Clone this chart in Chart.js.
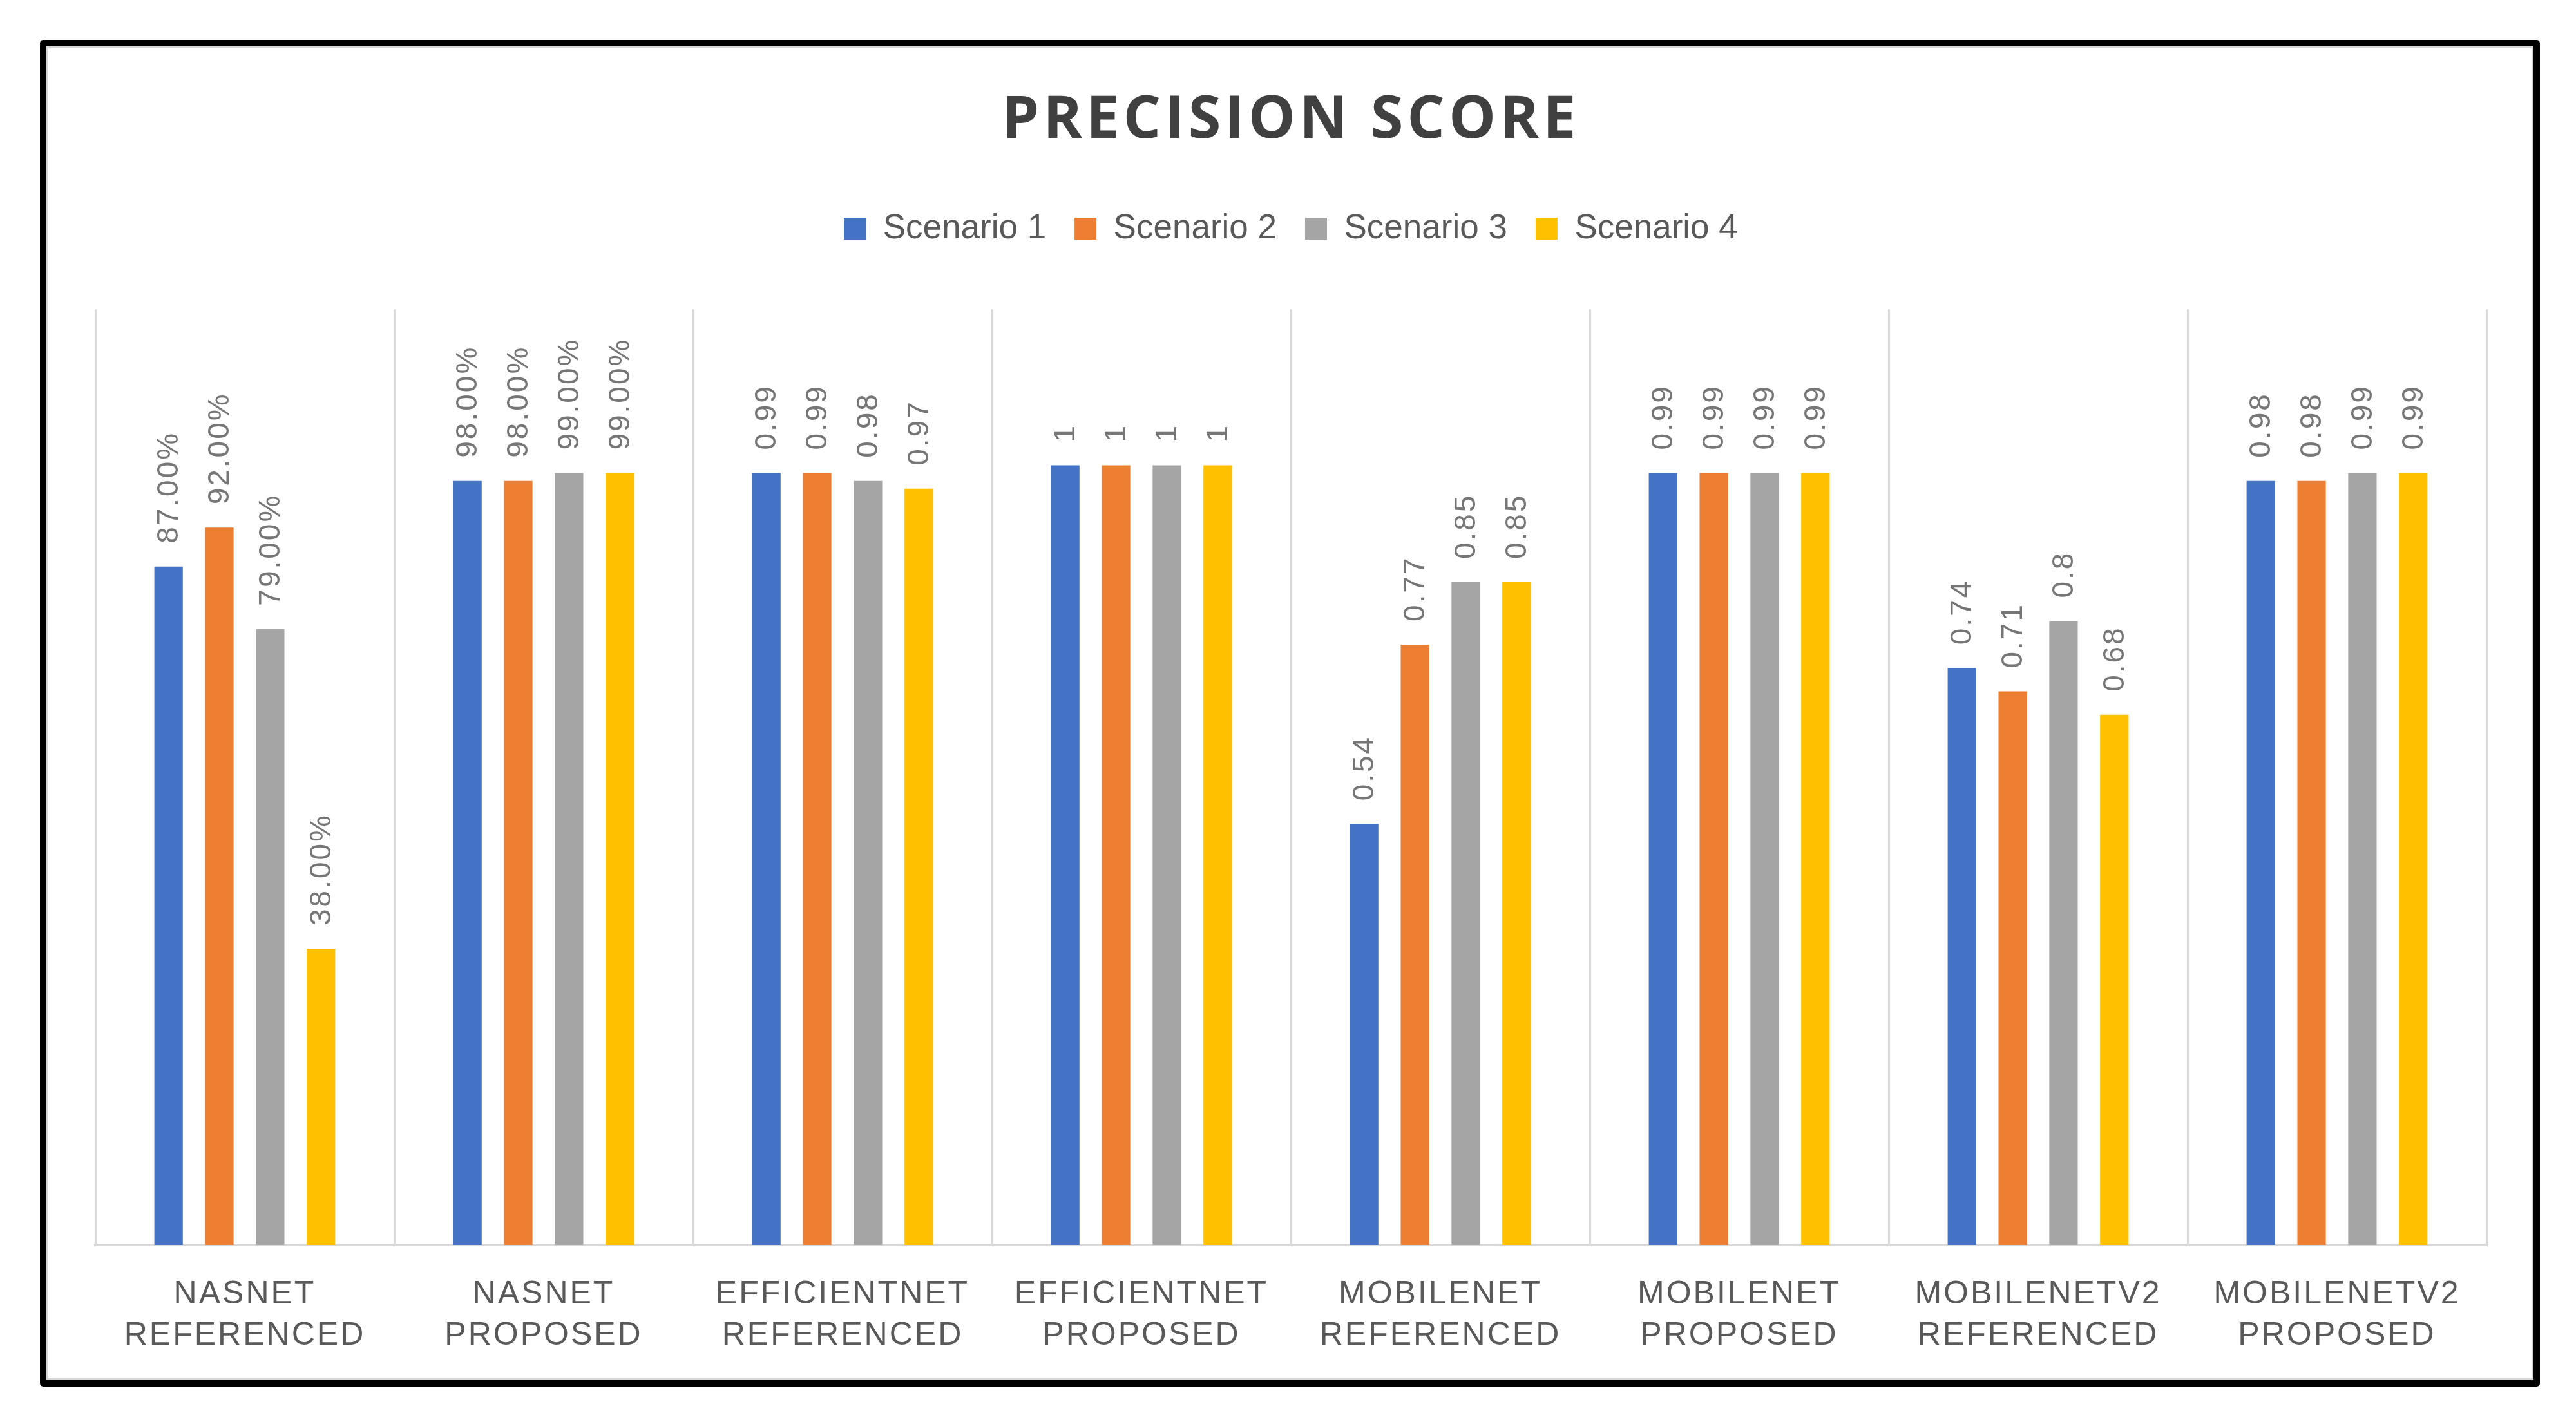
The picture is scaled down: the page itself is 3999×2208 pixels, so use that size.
<!DOCTYPE html>
<html><head><meta charset="utf-8">
<script src="https://cdn.jsdelivr.net/npm/chart.js@4.4.1/dist/chart.umd.min.js"></script>
<style>
html,body{margin:0;padding:0;background:#fff;width:3999px;height:2208px;overflow:hidden;}
#frame{position:absolute;left:62px;top:62px;width:3881px;height:2091px;box-sizing:border-box;border:10px solid #000;border-radius:5px;box-shadow:inset 0 0 0 3px #d6d6d6;}
#c{position:absolute;left:0;top:0;}
</style></head><body>
<div id="frame"></div>
<canvas id="c" width="3999" height="2208" style="width:3999px;height:2208px"></canvas>
<script>
// ---- data ----
const categories = [
  ['NASNET','REFERENCED'], ['NASNET','PROPOSED'],
  ['EFFICIENTNET','REFERENCED'], ['EFFICIENTNET','PROPOSED'],
  ['MOBILENET','REFERENCED'], ['MOBILENET','PROPOSED'],
  ['MOBILENETV2','REFERENCED'], ['MOBILENETV2','PROPOSED']
];
const labelStyle = ['percent','percent','plain','plain','plain','plain','plain','plain'];
const seriesNames = ['Scenario 1','Scenario 2','Scenario 3','Scenario 4'];
const scenario1 = [0.87, 0.98, 0.99, 1, 0.54, 0.99, 0.74, 0.98];
const scenario2 = [0.92, 0.98, 0.99, 1, 0.77, 0.99, 0.71, 0.98];
const scenario3 = [0.79, 0.99, 0.98, 1, 0.85, 0.99, 0.8, 0.99];
const scenario4 = [0.38, 0.99, 0.97, 1, 0.85, 0.99, 0.68, 0.99];
const seriesColors = ['#4472C4','#ED7D31','#A5A5A5','#FFC000'];
const yMin = 0, yMax = 1.2;
const titleText = 'PRECISION SCORE';

function fmt(v, i) {
  return labelStyle[i] === 'percent' ? (v * 100).toFixed(2) + '%' : String(v);
}

const spacingPatch = {
  id: 'spacingPatch',
  beforeDraw(chart) {
    const ctx = chart.ctx;
    const t = chart.titleBlock;
    if (t && !t._ls) {
      const d = t.draw.bind(t);
      t.draw = function(a) { ctx.save(); ctx.letterSpacing = '6px'; d(a); ctx.restore(); };
      t._ls = true;
    }
    const x = chart.scales.x;
    if (x && !x._ls) {
      const d = x.drawLabels.bind(x);
      x.drawLabels = function(a) { ctx.save(); ctx.letterSpacing = '3px'; d(a); ctx.restore(); };
      x._ls = true;
    }
  }
};

const valueLabels = {
  id: 'valueLabels',
  afterDatasetsDraw(chart) {
    const ctx = chart.ctx;
    ctx.save();
    ctx.font = '46px "Liberation Sans"';
    ctx.fillStyle = '#767676';
    ctx.letterSpacing = '3px';
    ctx.textAlign = 'left';
    ctx.textBaseline = 'middle';
    chart.data.datasets.forEach((ds, di) => {
      const meta = chart.getDatasetMeta(di);
      meta.data.forEach((bar, i) => {
        ctx.save();
        ctx.translate(bar.x, bar.y - 36);
        ctx.rotate(-Math.PI / 2);
        ctx.fillText(fmt(ds.data[i], i), 0, 2);
        ctx.restore();
      });
    });
    ctx.restore();
  }
};

const allSeries = [scenario1, scenario2, scenario3, scenario4];
const datasets = allSeries.map((s, k) => ({
  label: seriesNames[k],
  data: s,
  backgroundColor: seriesColors[k],
  borderWidth: 0,
  categoryPercentage: 0.68,
  barPercentage: 0.56
}));

new Chart(document.getElementById('c'), {
  type: 'bar',
  data: { labels: categories, datasets },
  plugins: [spacingPatch, valueLabels],
  options: {
    responsive: false,
    animation: false,
    devicePixelRatio: 1,
    layout: { padding: { left: 148, right: 139, top: 0, bottom: 75 } },
    plugins: {
      tooltip: { enabled: false },
      title: {
        display: true,
        text: titleText,
        color: '#404040',
        font: { family: '"Open Sans"', size: 92, weight: 'bold', lineHeight: 1.2 },
        padding: { top: 133, bottom: 41 }
      },
      subtitle: {
        display: true,
        text: ' ',
        weight: 100,
        font: { size: 1, lineHeight: 1 },
        padding: { top: 88, bottom: 0 }
      },
      legend: {
        display: true,
        position: 'top',
        labels: {
          boxWidth: 34,
          boxHeight: 34,
          padding: 44,
          color: '#595959',
          font: { family: '"Liberation Sans"', size: 53 }
        }
      }
    },
    scales: {
      x: {
        grid: { display: true, color: '#d9d9d9', lineWidth: 3, drawTicks: false, offset: true },
        border: { display: true, color: '#d9d9d9', width: 4 },
        ticks: {
          color: '#595959',
          font: { family: '"Liberation Sans"', size: 50, lineHeight: 1.28 },
          padding: 45,
          autoSkip: false,
          maxRotation: 0,
          minRotation: 0
        },
        afterFit: (s) => { s.height = 200; }
      },
      y: {
        display: false,
        min: yMin,
        max: yMax
      }
    }
  }
});
</script>
</body></html>
